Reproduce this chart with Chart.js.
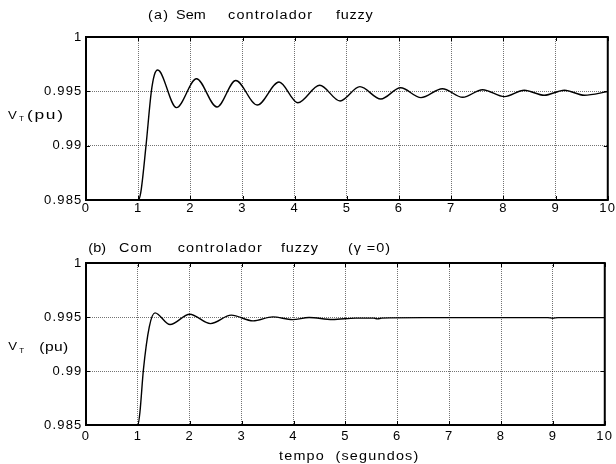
<!DOCTYPE html>
<html><head><meta charset="utf-8">
<script src="https://cdn.jsdelivr.net/npm/chart.js@4"></script>
<style>
html,body{margin:0;padding:0;background:#fff;}
#wrap{position:relative;width:616px;height:464px;background:#fff;}
canvas{position:absolute;left:0;}
</style></head><body>
<div id="wrap">
<canvas id="c1" width="616" height="232" style="top:0"></canvas>
<canvas id="c2" width="616" height="232" style="top:232px"></canvas>
</div>
<script>
// (a) Sem controlador fuzzy
const timeA = [0, 1.0, 1.05, 1.15, 1.25, 1.31, 1.375, 1.733, 2.117, 2.51, 2.87, 3.28, 3.70, 4.06, 4.48, 4.87, 5.25, 5.65, 6.03, 6.42, 6.83, 7.22, 7.60, 8.02, 8.40, 8.78, 9.17, 9.55, 10];
const voltA = [0.985, 0.985, 0.9857, 0.9900, 0.9949, 0.9965, 0.99696, 0.99350, 0.99616, 0.99356, 0.99600, 0.99374, 0.99586, 0.99395, 0.99556, 0.99411, 0.99543, 0.99429, 0.99533, 0.99442, 0.99524, 0.99445, 0.99515, 0.99451, 0.99510, 0.99464, 0.99510, 0.99464, 0.99497];
// (b) Com controlador fuzzy (gamma = 0)
const timeB = [0, 1.0, 1.04, 1.106, 1.22, 1.33, 1.62, 2.0, 2.4, 2.80, 3.22, 3.6, 3.98, 4.3, 4.75, 5.2, 5.55, 5.62, 5.7, 6.5, 8.9, 9.0, 9.1, 10];
const voltB = [0.985, 0.985, 0.9862, 0.99008, 0.99409, 0.99538, 0.99430, 0.99526, 0.99439, 0.99517, 0.99464, 0.99501, 0.99476, 0.99495, 0.99477, 0.99490, 0.99490, 0.99483, 0.99490, 0.99494, 0.99494, 0.99489, 0.99494, 0.99494];

const xTicks = [0,1,2,3,4,5,6,7,8,9,10];
const xTickLabels = ['0','1','2','3','4','5','6','7','8','9','10'];
const yTicks = [0.985, 0.99, 0.995, 1];
const yTickLabels = ['0.985','0.99','0.995','1'];
const titleA = ['(a)','Sem','controlador','fuzzy'];
const titleB = ['(b)','Com','controlador','fuzzy','(\u03B3 =0)'];
const yLabel = ['V','T','(pu)'];
const xLabel = 'tempo  (segundos)';

const FONT = "'Liberation Sans', Arial, Helvetica, sans-serif";

const deco = {
  id: 'deco',
  beforeDraw(chart) { chart.ctx.letterSpacing = '1.2px'; },
  afterDraw(chart, args, opts) {
    const ctx = chart.ctx, a = chart.chartArea;
    const xs = chart.scales.x, ys = chart.scales.y;
    ctx.save();
    ctx.letterSpacing = '0px';
    ctx.setLineDash([]);
    ctx.strokeStyle = '#000';
    ctx.lineWidth = 1;
    ctx.beginPath();
    xTicks.forEach(v => {
      const p = Math.round(xs.getPixelForValue(v)) + 0.5;
      ctx.moveTo(p, a.bottom); ctx.lineTo(p, a.bottom - 4);
      ctx.moveTo(p, a.top); ctx.lineTo(p, a.top + 4);
    });
    yTicks.forEach(v => {
      const p = Math.round(ys.getPixelForValue(v)) + 0.5;
      ctx.moveTo(a.left, p); ctx.lineTo(a.left + 4, p);
      ctx.moveTo(a.right, p); ctx.lineTo(a.right - 4, p);
    });
    ctx.stroke();
    ctx.lineWidth = 2;
    ctx.strokeRect(a.left, a.top, a.right - a.left, a.bottom - a.top);
    ctx.fillStyle = '#000';
    ctx.textBaseline = 'alphabetic';
    ctx.textAlign = 'left';
    (opts.items || []).forEach(it => {
      const s = it.sx || 1.2;
      ctx.font = (it.size || 12) + 'px ' + FONT;
      ctx.letterSpacing = '0px';
      const w = ctx.measureText(it.t).width;
      const n = [...it.t].length;
      let sp = (n > 1 && it.x1) ? ((it.x1 - it.x0) / s - w) / (n - 1) : 0;
      if (sp < 0) sp = 0;
      ctx.save();
      ctx.translate(it.x0, it.y);
      ctx.scale(s, 1);
      ctx.letterSpacing = sp + 'px';
      ctx.fillText(it.t, 0, 0);
      ctx.restore();
    });
    ctx.restore();
  }
};

function makeChart(id, tArr, vArr, padTop, xHeight, xPad, items) {
  const gridOpts = { color: 'rgba(0,0,0,0.55)', lineWidth: 1, drawTicks: false };
  const borderOpts = { display: false, dash: [1, 1] };
  return new Chart(document.getElementById(id), {
    type: 'line',
    data: {
      datasets: [{
        data: tArr.map((t, i) => ({ x: t, y: vArr[i] })),
        borderColor: '#000',
        borderWidth: 1.4,
        pointRadius: 0,
        fill: false,
        cubicInterpolationMode: 'monotone'
      }]
    },
    options: {
      responsive: false,
      animation: false,
      devicePixelRatio: 1,
      layout: { padding: { top: padTop, right: 8, left: 0, bottom: 0 } },
      plugins: { legend: { display: false }, tooltip: { enabled: false }, title: { display: false }, deco: { items } },
      scales: {
        x: {
          type: 'linear', min: 0, max: 10,
          afterFit(s) { s.height = xHeight; },
          afterBuildTicks(s) { s.ticks = xTicks.map(v => ({ value: v })); },
          ticks: { callback: (v, i) => xTickLabels[i], padding: xPad, font: { family: FONT, size: 13 }, color: '#000', maxRotation: 0, autoSkip: false },
          grid: gridOpts, border: borderOpts
        },
        y: {
          type: 'linear', min: 0.985, max: 1,
          afterFit(s) { s.width = 86; },
          afterBuildTicks(s) { s.ticks = yTicks.map(v => ({ value: v })); },
          ticks: { callback: (v, i) => yTickLabels[i], padding: 3.5, font: { family: FONT, size: 13 }, color: '#000', autoSkip: false },
          grid: gridOpts, border: borderOpts
        }
      }
    },
    plugins: [deco]
  });
}

makeChart('c1', timeA, voltA, 37, 32, 1, [
  { t: titleA[0], x0: 148, x1: 168, y: 19 },
  { t: titleA[1], x0: 176, x1: 205.7, y: 19 },
  { t: titleA[2], x0: 228, x1: 312, y: 19 },
  { t: titleA[3], x0: 336, x1: 372.7, y: 19 },
  { t: yLabel[0], x0: 8, y: 118.5, size: 11 },
  { t: yLabel[1], x0: 19, y: 121, size: 8, sx: 1 },
  { t: yLabel[2], x0: 27, x1: 63, y: 119, sx: 1.45 }
]);

makeChart('c2', timeB, voltB, 31, 39, 4, [
  { t: titleB[0], x0: 88.3, x1: 106, y: 19.5 },
  { t: titleB[1], x0: 119, x1: 151.7, y: 19.5 },
  { t: titleB[2], x0: 177.7, x1: 261.7, y: 19.5 },
  { t: titleB[3], x0: 281, x1: 318, y: 19.5 },
  { t: titleB[4], x0: 348, x1: 390, y: 19.5 },
  { t: yLabel[0], x0: 8.3, y: 118, size: 11 },
  { t: yLabel[1], x0: 19.3, y: 120.5, size: 8, sx: 1 },
  { t: yLabel[2], x0: 39.3, x1: 68.3, y: 118.5, sx: 1.3 },
  { t: xLabel, x0: 279, x1: 418.3, y: 228 }
]);
</script>
</body></html>
